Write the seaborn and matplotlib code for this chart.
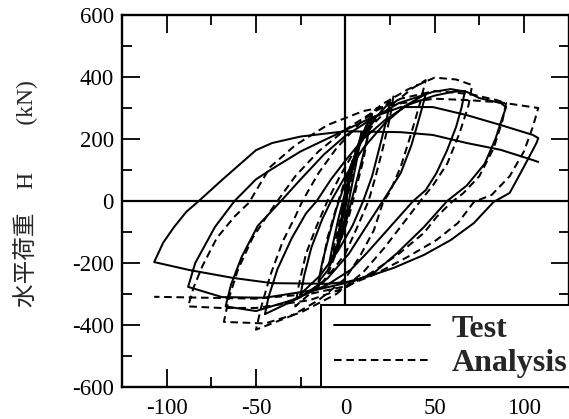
import matplotlib
matplotlib.use("Agg")
import matplotlib.pyplot as plt
from matplotlib.patches import Rectangle
from matplotlib.ticker import MultipleLocator
import seaborn as sns
import pandas as pd

# Datos (desplazamiento mm, carga kN)
test_x = [0, 2, 4, 2, 0, -2, -4, -2, 0, 3, 6, 9,
          7, 4, 1, -3, -6, -9, -7, -4, 0, 4, 9, 15,
          13, 9, 5, 1, -4, -10, -15, -13, -9, -5, 0, 6, 14, 25,
          23, 19, 15, 10, 4, -4, -14, -25,
          -23, -19, -13, -8, 0, 10, 22, 33, 45,
          42, 37, 31, 21, 12, 2, -10, -25, -45,
          -43, -38, -30, -22, -16, -8, 0, 10, 22, 35, 50, 60, 67,
          65, 62, 57, 51, 45, 38, 25, 12, 3, -10, -30, -50, -67,
          -64, -58, -49, -36, -25, -12, 0, 15, 30, 40, 49, 59, 68, 75, 87, 90,
          88, 84, 78, 68, 57, 44, 29, 16, 5, -15, -45, -69, -88,
          -84, -80, -73, -62, -50, -42, -25, -5, 15, 31, 49, 68, 87, 105, 108,
          107, 99, 92, 83, 72, 59, 44, 27, 12, 1, -10, -41, -63, -87, -107,
          -102, -96, -89, -82, -69, -50, -41, -25, 0, 31, 49, 68, 87, 105, 108]
test_y = [0, 60, 120, 50, -20, -65, -110, -50, 15, 95, 160, 210,
          150, 60, -30, -115, -165, -200, -140, -60, 30, 120, 205, 280,
          220, 125, 35, -55, -150, -225, -260, -200, -110, -25, 60, 160, 250, 320,
          260, 170, 80, 0, -80, -160, -240, -300,
          -240, -150, -60, 0, 80, 170, 250, 305, 345,
          280, 180, 90, 0, -80, -170, -250, -310, -365,
          -310, -220, -120, -40, 0, 70, 130, 200, 260, 310, 340, 352, 355,
          300, 239, 164, 90, 35, 0, -84, -168, -222, -270, -320, -355, -340,
          -270, -180, -80, 0, 70, 150, 210, 265, 316, 335, 352, 361, 352, 332, 316, 303,
          270, 200, 120, 50, 0, -84, -168, -232, -258, -285, -312, -310, -277,
          -200, -158, -84, 0, 70, 100, 160, 215, 270, 303, 303, 277, 245, 213, 203,
          187, 100, 26, -3, -71, -126, -174, -216, -245, -261, -267, -265, -248, -223, -197,
          -135, -85, -35, 0, 68, 164, 187, 208, 225, 222, 213, 187, 165, 132, 126]

analysis_x = [0, 2, 4, 2, 0, -2, -4, -2, 0, 4, 9,
              6, 3, 0, -4, -9, -6, -3, 1, 5, 10, 15,
              13, 10, 6, 2, -4, -10, -15, -13, -10, -5, 0, 7, 15, 27,
              25, 21, 17, 13, 7, 0, -12, -28,
              -26, -22, -16, -10, -3, 6, 16, 28, 38, 45,
              42, 37, 31, 25, 21, 16, 8, 0, -15, -30, -50,
              -47, -42, -35, -28, -24, -15, -5, 8, 20, 35, 50, 62, 71,
              69, 64, 57, 49, 42, 34, 22, 10, -5, -25, -45, -68,
              -65, -60, -52, -44, -38, -28, -15, 0, 15, 31, 50, 70, 85, 90,
              88, 83, 75, 66, 59, 51, 44, 30, 15, 0, -20, -50, -70, -88,
              -85, -80, -72, -62, -54, -42, -28, -10, 10, 31, 50, 70, 87, 108,
              105, 100, 92, 82, 72, 63, 51, 35, 16, 0, -20, -50, -80, -107]
analysis_y = [0, 65, 130, 60, -10, -65, -120, -55, 10, 100, 220,
              150, 60, -20, -120, -210, -140, -60, 40, 130, 220, 290,
              220, 130, 40, -50, -150, -240, -280, -210, -120, -20, 70, 170, 250, 340,
              270, 170, 80, 0, -80, -170, -260, -340,
              -270, -170, -80, 0, 80, 170, 250, 320, 365, 390,
              320, 220, 110, 30, -6, -94, -180, -250, -320, -370, -415,
              -340, -240, -130, -50, 0, 90, 170, 250, 310, 360, 398, 392, 374,
              310, 220, 120, 50, 0, -60, -150, -230, -300, -360, -395, -390,
              -310, -220, -120, -50, 0, 80, 160, 230, 285, 330, 355, 345, 325, 316,
              260, 170, 80, 25, -6, -52, -103, -170, -230, -280, -320, -345, -345, -340,
              -280, -210, -120, -50, -6, 110, 180, 245, 290, 315, 330, 325, 318, 300,
              240, 160, 80, 20, -3, -71, -126, -180, -238, -275, -300, -315, -312, -309]

xticks = [-100, -50, 0, 50, 100]
xtick_labels = ["-100", "-50", "0", "50", "100"]
yticks = [-600, -400, -200, 0, 200, 400, 600]
ytick_labels = ["-600", "-400", "-200", "0", "200", "400", "600"]
series_labels = ["Test", "Analysis"]

sns.set_style("ticks")
plt.rcParams['font.family'] = ['Liberation Serif', 'Noto Sans CJK JP']

fig = plt.figure(figsize=(5.69, 4.19), dpi=100)
ax = fig.add_axes([122 / 569, 32 / 419, 447 / 569, 372 / 419])

df_test = pd.DataFrame({"disp": test_x, "load": test_y})
df_ana = pd.DataFrame({"disp": analysis_x, "load": analysis_y})

sns.lineplot(data=df_test, x="disp", y="load", sort=False, estimator=None,
             color="black", lw=1.45, ax=ax, label=series_labels[0])
sns.lineplot(data=df_ana, x="disp", y="load", sort=False, estimator=None,
             color="black", lw=1.45, linestyle=(0, (3.8, 2.3)), ax=ax, label=series_labels[1])

ax.axhline(0, color="black", lw=1.6, zorder=1)
ax.axvline(0, color="black", lw=1.6, zorder=1)

ax.set_xlim(-125, 125.2)
ax.set_ylim(-600, 600)
ax.set_xticks(xticks)
ax.set_xticklabels(xtick_labels)
ax.set_yticks(yticks)
ax.set_yticklabels(ytick_labels)
ax.xaxis.set_minor_locator(MultipleLocator(25))
ax.yaxis.set_minor_locator(MultipleLocator(100))
ax.tick_params(which="both", direction="in", top=True, right=True, width=1.3,
               labelsize=16.5, colors="black")
ax.tick_params(which="major", length=13)
ax.tick_params(which="minor", length=7.5)
ax.tick_params(axis="x", pad=8)
ax.tick_params(axis="y", pad=6)
for s in ax.spines.values():
    s.set_visible(True)
    s.set_linewidth(1.7)
    s.set_color("black")

ax.set_xlabel("")
ax.set_ylabel("水平荷重　H　　(kN)", fontsize=17, va="center",
              family=['Liberation Serif', 'Noto Sans CJK JP'])
ax.yaxis.set_label_coords(-0.215, 0.52)

# caja de la leyenda
ax.add_patch(Rectangle((0.445, 0), 0.6, 0.2204, transform=ax.transAxes,
                       facecolor="white", edgecolor="black", lw=1.4,
                       zorder=4, clip_on=False))
ax.legend(loc="center left", bbox_to_anchor=(0.445, 0, 0.555, 0.2204),
          frameon=False, prop={"family": "Liberation Serif", "weight": "bold", "size": 23},
          handlelength=3.0, handletextpad=0.7, labelspacing=0.15,
          borderaxespad=0, borderpad=0.4)

fig.savefig("out.png", dpi=100)
